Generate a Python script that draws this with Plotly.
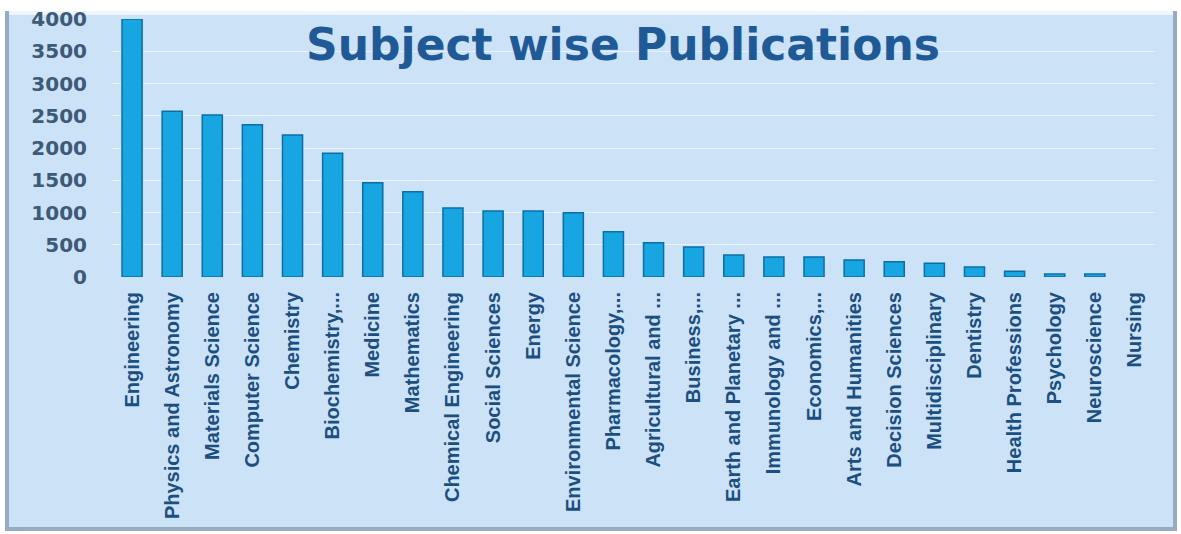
import plotly.graph_objects as go

categories = [
    "Engineering", "Physics and Astronomy", "Materials Science", "Computer Science",
    "Chemistry", "Biochemistry,...", "Medicine", "Mathematics", "Chemical Engineering",
    "Social Sciences", "Energy", "Environmental Science", "Pharmacology,...",
    "Agricultural and ...", "Business,...", "Earth and Planetary ...", "Immunology and ...",
    "Economics,...", "Arts and Humanities", "Decision Sciences", "Multidisciplinary",
    "Dentistry", "Health Professions", "Psychology", "Neuroscience", "Nursing",
]
values = [4000, 2570, 2510, 2360, 2200, 1920, 1460, 1320, 1070, 1025, 1025, 995,
          700, 530, 465, 340, 310, 310, 265, 235, 215, 155, 90, 45, 45, 0]
y_ticks = [0, 500, 1000, 1500, 2000, 2500, 3000, 3500, 4000]

W, H = 1181, 534
L, R, T, B = 112, 26, 19, 257

fig = go.Figure()
fig.add_trace(go.Bar(
    x=categories, y=values,
    marker=dict(color="#17a6e2",
                line=dict(color="#0b6ea6", width=[1.5 if v > 0 else 0 for v in values])),
    width=0.5,
))

pw, ph = W - L - R, H - T - B
def px2paper_x(px):
    return (px - L) / pw
def px2paper_y(py):
    return 1 - (py - T) / ph

# chart frame
fig.add_shape(type="rect", xref="paper", yref="paper",
              x0=px2paper_x(7), x1=px2paper_x(1175),
              y0=px2paper_y(529), y1=px2paper_y(13),
              line=dict(color="#97abc0", width=4),
              fillcolor="#cce2f7", layer="below")
fig.add_shape(type="line", xref="paper", yref="paper",
              x0=px2paper_x(9), x1=px2paper_x(1173),
              y0=px2paper_y(13), y1=px2paper_y(13),
              line=dict(color="#eef5fc", width=4), layer="below")

fig.update_layout(
    width=W, height=H,
    margin=dict(l=L, r=R, t=T, b=B),
    paper_bgcolor="white",
    plot_bgcolor="rgba(0,0,0,0)",
    showlegend=False,
    title=dict(text="<b>Subject wise Publications</b>",
               x=px2paper_x(623), xref="paper", xanchor="center",
               y=1 - 45 / H, yref="container", yanchor="middle",
               font=dict(family="DejaVu Sans", size=44, color="#1f5a96")),
)
fig.update_xaxes(
    tickangle=-90, automargin=False, showgrid=False, showline=False,
    tickfont=dict(family="Liberation Sans", size=20, color="#1b4f80", weight="bold"),
    ticks="", ticklabelstandoff=10,
)
fig.update_yaxes(
    range=[0, 4000], tickvals=y_ticks, automargin=False,
    gridcolor="rgba(255,255,255,0.55)", gridwidth=1, zeroline=False, showline=False,
    tickfont=dict(family="DejaVu Sans", size=20, color="#3d5a78", weight="bold"),
    ticklabelstandoff=24,
)

fig.write_html("out.html", config={"displayModeBar": False},
               post_script="document.body.style.margin='0px';")
